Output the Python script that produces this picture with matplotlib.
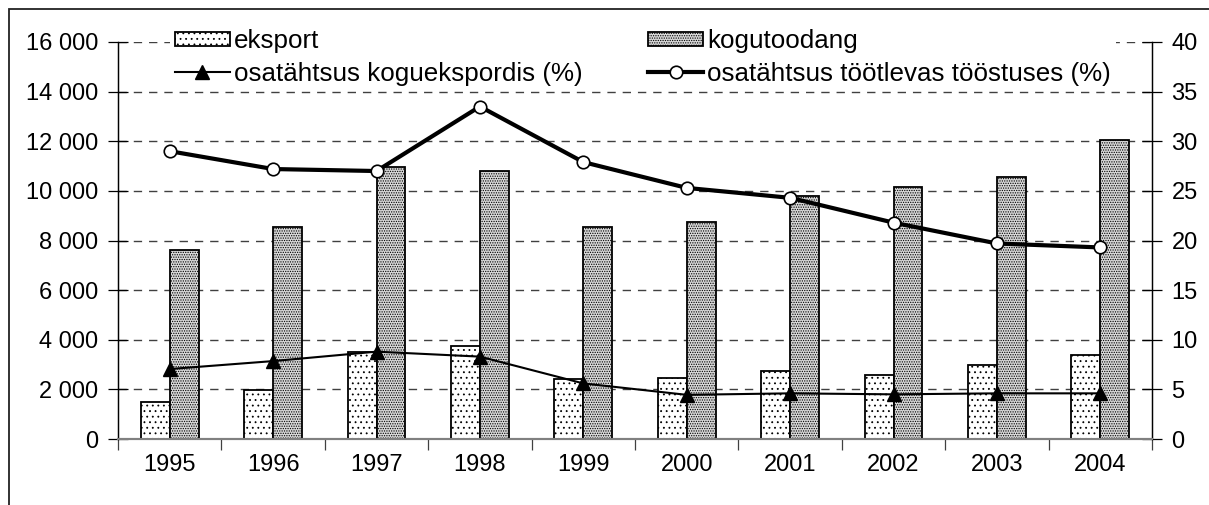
import matplotlib
matplotlib.use("Agg")
import matplotlib.pyplot as plt
import numpy as np
from matplotlib.lines import Line2D
from matplotlib.patches import Rectangle

plt.rcParams['font.family'] = ['Liberation Sans', 'DejaVu Sans']
plt.rcParams['hatch.linewidth'] = 0.6

years = ['1995', '1996', '1997', '1998', '1999', '2000', '2001', '2002', '2003', '2004']
eksport = [1500, 1970, 3520, 3750, 2420, 2440, 2750, 2590, 2980, 3370]
kogutoodang = [7600, 8550, 10950, 10800, 8550, 8750, 9780, 10160, 10550, 12070]
osa_eksport = [7.05, 7.85, 8.8, 8.3, 5.6, 4.45, 4.6, 4.5, 4.6, 4.6]
osa_tootlev = [29.0, 27.2, 27.0, 33.5, 27.9, 25.3, 24.3, 21.8, 19.7, 19.3]

left_ticks = [0, 2000, 4000, 6000, 8000, 10000, 12000, 14000, 16000]
left_labels = ['0', '2 000', '4 000', '6 000', '8 000', '10 000', '12 000', '14 000', '16 000']
right_ticks = [0, 5, 10, 15, 20, 25, 30, 35, 40]

FS = 17
LFS = 18.7

fig = plt.figure(figsize=(12.09, 5.05), dpi=100)
ax = fig.add_axes([118/1209, 1-439/505, (1152-118)/1209, (439-42)/505])
ax2 = ax.twinx()

x = np.arange(len(years))
w = 0.28
ax.bar(x - w/2, eksport, w, facecolor='white', edgecolor='black', linewidth=1.3,
       hatch='...', zorder=3)
ax.bar(x + w/2, kogutoodang, w, facecolor='#d8d8d8', edgecolor='black', linewidth=1.3,
       hatch='.......', zorder=3)

ax.set_xlim(-0.5, len(years) - 0.5)
ax.set_ylim(0, 16000)
ax.set_yticks(left_ticks)
ax.set_yticklabels(left_labels)
for t in left_ticks[1:]:
    ax.axhline(t, color='#404040', linestyle=(0, (6, 5)), linewidth=1.0, zorder=1)

ax.set_xticks(x)
ax.set_xticklabels(years)
ax.set_xticks(np.arange(-0.5, len(years) + 0.5, 1.0), minor=True)
ax.tick_params(axis='x', which='major', length=0, pad=11, labelsize=FS)
ax.tick_params(axis='x', which='minor', length=8, width=0.9, direction='out', color='#404040')
ax.tick_params(axis='y', direction='inout', length=14, width=0.9, labelsize=FS, pad=7)

ax2.set_ylim(0, 40)
ax2.set_yticks(right_ticks)
ax2.tick_params(axis='y', direction='inout', length=14, width=0.9, labelsize=FS, pad=7)

for a in (ax, ax2):
    a.spines['top'].set_visible(False)
    a.spines['left'].set_linewidth(0.9)
    a.spines['right'].set_linewidth(0.9)
    a.spines['bottom'].set_color('#808080')
    a.spines['bottom'].set_linewidth(1.5)

ax2.plot(x, osa_eksport, color='black', linewidth=1.5, marker='^', markersize=10,
         markerfacecolor='black', markeredgecolor='black', zorder=5)
ax2.plot(x, osa_tootlev, color='black', linewidth=3, marker='o', markersize=9,
         markerfacecolor='white', markeredgecolor='black', markeredgewidth=1.2, zorder=5)

h1 = Rectangle((0, 0), 1, 1, facecolor='white', edgecolor='black', linewidth=1.3, hatch='...')
h2 = Rectangle((0, 0), 1, 1, facecolor='#d8d8d8', edgecolor='black', linewidth=1.3, hatch='.......')
h3 = Line2D([], [], color='black', linewidth=1.5, marker='^', markersize=10)
h4 = Line2D([], [], color='black', linewidth=3, marker='o', markersize=9,
            markerfacecolor='white', markeredgecolor='black', markeredgewidth=1.2)
leg = ax2.legend([h1, h3, h2, h4],
                 ['eksport', 'osatähtsus koguekspordis (%)', 'kogutoodang',
                  'osatähtsus töötlevas tööstuses (%)'],
                 ncol=2, loc='upper left', bbox_to_anchor=(170/1209, 1-24/505),
                 bbox_transform=fig.transFigure, frameon=True, fancybox=False,
                 edgecolor='none', facecolor='white', framealpha=1,
                 fontsize=LFS, handlelength=2.1, handleheight=0.5, handletextpad=0.15,
                 columnspacing=2.55, labelspacing=0.32, borderpad=0.2, borderaxespad=0)
leg.set_zorder(10)

# outer frame
fig.add_artist(Rectangle((9/1209, -0.1), 1.2, 1 - 9/505 + 0.1, transform=fig.transFigure,
                         fill=False, edgecolor='#222222', linewidth=1.3))

fig.savefig('out.png', dpi=100)
